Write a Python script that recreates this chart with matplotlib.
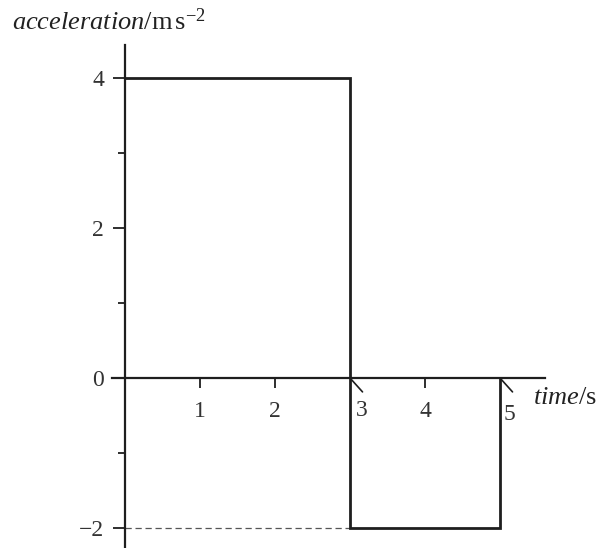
import matplotlib
matplotlib.use("Agg")
import matplotlib.pyplot as plt

# data
time_edges = [0, 3, 3, 5, 5]
accel_vals = [4, 4, -2, -2, 0]
y_major = [-2, 0, 2, 4]
y_minor = [-1, 1, 3]
x_tick_marks = [1, 2, 4]
x_labels = [1, 2, 3, 4, 5]
x_diag_ticks = [3, 5]

plt.rcParams['font.family'] = 'Liberation Serif'
plt.rcParams['mathtext.fontset'] = 'custom'
plt.rcParams['mathtext.rm'] = 'Liberation Serif'
plt.rcParams['mathtext.it'] = 'Liberation Serif:italic'

W, H = 616, 548
fig = plt.figure(figsize=(W/100, H/100), dpi=100)
ax = fig.add_axes([0, 0, 1, 1])
ax.set_xlim(-125/75, (W-125)/75)
ax.set_ylim(-(H-378)/75, 378/75)
ax.patch.set_alpha(0)

col = '#1e1e1e'
for s in ['top', 'right']:
    ax.spines[s].set_visible(False)
ax.spines['left'].set_position(('data', 0))
ax.spines['bottom'].set_position(('data', 0))
ax.spines['left'].set_bounds(-(H-378)/75, (378-45)/75)
ax.spines['bottom'].set_bounds(-13/75, (545-125)/75)
for s in ['left', 'bottom']:
    ax.spines[s].set_linewidth(1.6)
    ax.spines[s].set_color(col)

ax.set_yticks(y_major)
ax.set_yticks(y_minor, minor=True)
ax.set_yticklabels(['\u22122' if v < 0 else str(v) for v in y_major], fontsize=17, color='#333')
ax.tick_params(axis='y', which='major', length=9, width=1.3, color=col, pad=6, direction='out')
ax.tick_params(axis='y', which='minor', length=5, width=1.3, color=col, direction='out')

ax.set_xticks(x_tick_marks)
ax.set_xticklabels([])
ax.tick_params(axis='x', which='major', length=7, width=1.3, color=col, direction='out')

# x labels
for v in x_labels:
    if v == 3:
        dx, dy = 0.15, -0.43
    elif v == 5:
        dx, dy = 0.12, -0.49
    else:
        dx, dy = 0.0, -0.45
    ax.text(v + dx, dy, str(v), ha='center', va='center', fontsize=17, color='#333')

# diagonal ticks at 3 and 5
for v in x_diag_ticks:
    ax.annotate('', xy=(v, 0), xycoords='data', xytext=(9, -10), textcoords='offset points',
                arrowprops=dict(arrowstyle='-', color=col, lw=1.2, shrinkA=0, shrinkB=0))

# dashed reference at -2
ax.plot([0, 3], [-2, -2], color='#555', lw=0.9, ls=(0, (5, 3)))

# step graph
ax.plot(time_edges, accel_vals, color=col, lw=2.0, solid_joinstyle='miter')

ax.text(0.02, 0.945, r'$\mathit{acceleration}/\mathrm{m\,s}^{-2}$', transform=ax.transAxes,
        fontsize=19, color='#222', ha='left', va='baseline')
ax.text(5.44, -0.34, r'$\mathit{time}/\mathrm{s}$', fontsize=19, color='#222', ha='left', va='baseline')

fig.savefig('out.png', dpi=100)
